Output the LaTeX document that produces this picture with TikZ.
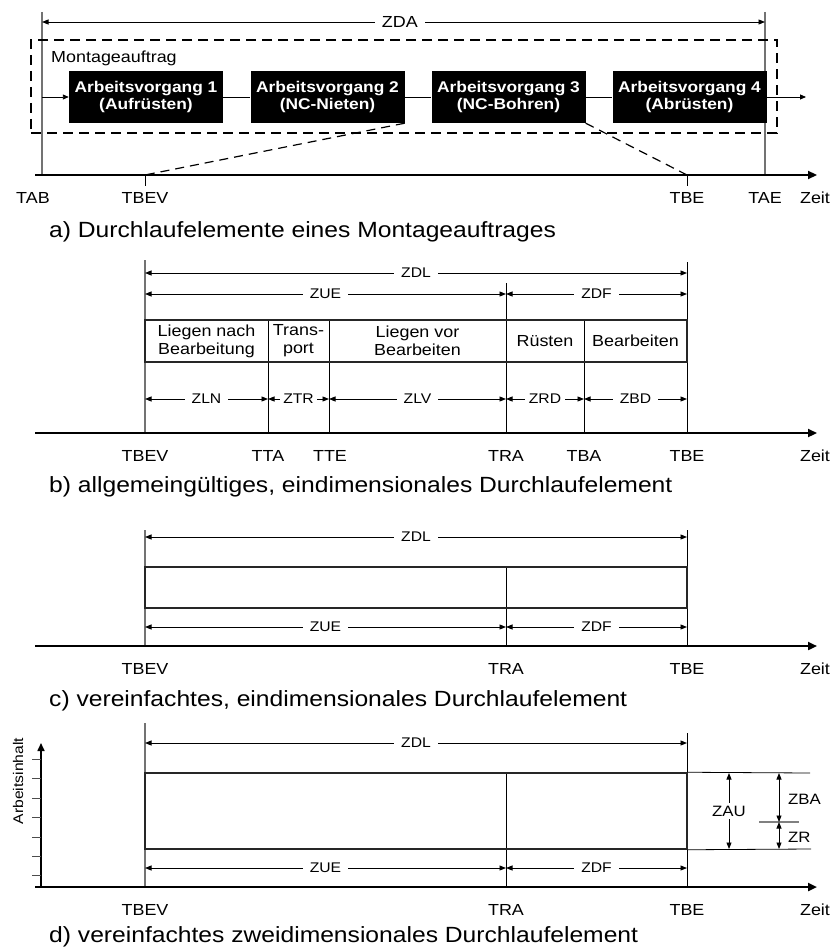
\documentclass[tikz,border=0pt]{standalone}
\usepackage{fontspec}
\setmainfont{Liberation Sans}[FakeStretch=1.12]
\usetikzlibrary{arrows.meta}

\newcommand\lblfont{\fontsize{14}{16}\selectfont}
\newcommand\sidefont{\fontsize{15}{17}\selectfont}
\newcommand\axfont{\fontsize{16}{18}\selectfont}
\newcommand\cellfont{\fontsize{16}{18}\selectfont}
\newcommand\avfont{\fontsize{15.5}{17}\selectfont\bfseries}
\newcommand\captfont{\fontsize{22}{24}\selectfont}

\tikzset{
  dimline/.style={line width=0.9pt,
    {Triangle[length=6.5pt,width=5pt]}-{Triangle[length=6.5pt,width=5pt]}},
  dimlabel/.style={fill=white, inner xsep=7pt, inner ysep=1pt, font=\lblfont},
  timeaxis/.style={line width=2.2pt, -{Triangle[length=9pt,width=8pt]}},
  guide/.style={line width=1.3pt, black!55},
  thinguide/.style={line width=0.8pt, black},
  tickline/.style={line width=0.9pt, black},
  leader/.style={line width=1.2pt, dash pattern=on 9pt off 6pt},
  flowline/.style={line width=0.9pt},
  flowarrow/.style={line width=0.9pt, -{Triangle[length=6pt,width=5pt]}},
  avbox/.style={fill=black, text=white, font=\avfont, align=center,
    minimum width=154pt, minimum height=52pt, inner sep=0pt},
  axislabel/.style={font=\axfont, inner sep=0pt},
  caption/.style={font=\captfont, anchor=west, inner sep=0pt},
  framebox/.style={draw=black!85, line width=1.5pt},
  celltext/.style={font=\cellfont, align=center, inner sep=0pt},
}

\begin{document}
\begin{tikzpicture}[x=1pt,y=-1pt]
\path[use as bounding box] (0,0) rectangle (834,952);

% ================= a) Durchlaufelemente eines Montageauftrages
\coordinate (aTABt) at (42,12);  \coordinate (aTABb) at (42,175);
\coordinate (aTAEt) at (765,12); \coordinate (aTAEb) at (765,175);
\draw[guide] (aTABt) -- (aTABb);
\draw[guide] (aTAEt) -- (aTAEb);
\coordinate (aZDAl) at (42,22); \coordinate (aZDAr) at (765,22);
\draw[dimline] (aZDAl) -- node[dimlabel, font=\axfont, pos=0.495] (lZDA) {ZDA} (aZDAr);

\node[draw, line width=1.6pt, dash pattern=on 10pt off 6pt,
      minimum width=746pt, minimum height=93pt, inner sep=0pt]
      (auftrag) at (404,86.5) {};
\node[font=\cellfont, anchor=west, inner sep=0pt] (montage) at (51,58) {Montageauftrag};

\node[avbox] (av1) at (146,97)   {Arbeitsvorgang 1\\(Aufrüsten)};
\node[avbox] (av2) at (327.5,97) {Arbeitsvorgang 2\\(NC-Nieten)};
\node[avbox] (av3) at (508.5,97) {Arbeitsvorgang 3\\(NC-Bohren)};
\node[avbox] (av4) at (689.5,97) {Arbeitsvorgang 4\\(Abrüsten)};
\coordinate (ain) at (42,97); \coordinate (aout) at (806,97);
\draw[flowarrow] (ain) -- (av1.west);
\draw[flowline] (av1.east) -- (av2.west);
\draw[flowline] (av2.east) -- (av3.west);
\draw[flowline] (av3.east) -- (av4.west);
\draw[flowarrow] (av4.east) -- (aout);

\coordinate (aAx0) at (35,175); \coordinate (aAx1) at (817,175);
\draw[timeaxis] (aAx0) -- (aAx1);
\coordinate (aTBEV) at (145,175); \coordinate (aTBEVt) at (145,186);
\coordinate (aTBE) at (687,175);  \coordinate (aTBEt) at (687,186);
\draw[tickline] (aTBEV) -- (aTBEVt);
\draw[tickline] (aTBE) -- (aTBEt);
\draw[leader] (av2.south east) -- (aTBEV);
\draw[leader] (av3.south east) -- (aTBE);

\node[axislabel] (laTAB)  at (33,198)  {TAB};
\node[axislabel] (laTBEV) at (145,198) {TBEV};
\node[axislabel] (laTBE)  at (687,198) {TBE};
\node[axislabel] (laTAE)  at (765,198) {TAE};
\node[axislabel] (laZeit) at (815,198) {Zeit};
\node[caption] (capa) at (49,232) {a) Durchlaufelemente eines Montageauftrages};

% ================= b) allgemeingültiges, eindimensionales Durchlaufelement
\coordinate (bL) at (145,433);  \coordinate (bLt) at (145,260);
\coordinate (bR) at (687,433);  \coordinate (bRt) at (687,262);
\coordinate (bRA) at (506,433); \coordinate (bRAt) at (506,283);
\coordinate (bTA) at (268,433); \coordinate (bTAt) at (268,320);
\coordinate (bTE) at (329,433); \coordinate (bTEt) at (329,320);
\coordinate (bBA) at (584,433); \coordinate (bBAt) at (584,320);
\draw[guide] (bLt) -- (bL);
\draw[thinguide] (bRt) -- (bR);
\draw[thinguide] (bRAt) -- (bRA);
\draw[thinguide] (bTAt) -- (bTA);
\draw[thinguide] (bTEt) -- (bTE);
\draw[thinguide] (bBAt) -- (bBA);

\draw[dimline] (145,273) -- node[dimlabel] (lbZDL) {ZDL} (687,273);
\draw[dimline] (145,294) -- node[dimlabel] (lbZUE) {ZUE} (506,294);
\draw[dimline] (506,294) -- node[dimlabel] (lbZDF) {ZDF} (687,294);

\node[framebox, minimum width=542pt, minimum height=42pt, inner sep=0pt]
     (btable) at (416,341) {};
\node[celltext] (cLN) at (206.5,341) {Liegen nach\\Bearbeitung};
\node[celltext] (cTR) at (298.5,341) {Trans-\\port};
\node[celltext] (cLV) at (417.5,341) {Liegen vor\\Bearbeiten};
\node[celltext] (cRD) at (545,341)   {Rüsten};
\node[celltext] (cBD) at (635.5,341) {Bearbeiten};

\draw[dimline] (145,399) -- node[dimlabel] (lbZLN) {ZLN} (268,399);
\draw[dimline] (268,399) -- node[dimlabel, inner xsep=3pt] (lbZTR) {ZTR} (329,399);
\draw[dimline] (329,399) -- node[dimlabel] (lbZLV) {ZLV} (506,399);
\draw[dimline] (506,399) -- node[dimlabel, inner xsep=4pt] (lbZRD) {ZRD} (584,399);
\draw[dimline] (584,399) -- node[dimlabel] (lbZBD) {ZBD} (687,399);

\coordinate (bAx0) at (35,433); \coordinate (bAx1) at (817,433);
\draw[timeaxis] (bAx0) -- (bAx1);
\node[axislabel] (lbTBEV) at (145,456) {TBEV};
\node[axislabel] (lbTTA)  at (268,456) {TTA};
\node[axislabel] (lbTTE)  at (330,456) {TTE};
\node[axislabel] (lbTRA)  at (506,456) {TRA};
\node[axislabel] (lbTBA)  at (584,456) {TBA};
\node[axislabel] (lbTBE)  at (687,456) {TBE};
\node[axislabel] (lbZeit) at (815,456) {Zeit};
\node[caption] (capb) at (49,487) {b) allgemeingültiges, eindimensionales Durchlaufelement};

% ================= c) vereinfachtes, eindimensionales Durchlaufelement
\coordinate (cL) at (145,646);  \coordinate (cLt) at (145,530);
\coordinate (cR) at (687,646);  \coordinate (cRt) at (687,530);
\coordinate (cRA) at (506,646); \coordinate (cRAt) at (506,567);
\draw[guide] (cLt) -- (cL);
\draw[thinguide] (cRt) -- (cR);
\draw[thinguide] (cRAt) -- (cRA);
\draw[dimline] (145,537) -- node[dimlabel] (lcZDL) {ZDL} (687,537);
\node[framebox, minimum width=542pt, minimum height=41pt, inner sep=0pt]
     (cbar) at (416,587.5) {};
\draw[dimline] (145,627) -- node[dimlabel] (lcZUE) {ZUE} (506,627);
\draw[dimline] (506,627) -- node[dimlabel] (lcZDF) {ZDF} (687,627);
\coordinate (cAx0) at (35,646); \coordinate (cAx1) at (817,646);
\draw[timeaxis] (cAx0) -- (cAx1);
\node[axislabel] (lcTBEV) at (145,669) {TBEV};
\node[axislabel] (lcTRA)  at (506,669) {TRA};
\node[axislabel] (lcTBE)  at (687,669) {TBE};
\node[axislabel] (lcZeit) at (815,669) {Zeit};
\node[caption] (capc) at (49,701) {c) vereinfachtes, eindimensionales Durchlaufelement};

% ================= d) vereinfachtes zweidimensionales Durchlaufelement
\coordinate (dL) at (145,887);  \coordinate (dLt) at (145,723);
\coordinate (dR) at (687,887);  \coordinate (dRt) at (687,733);
\coordinate (dRA) at (506,887); \coordinate (dRAt) at (506,773);
\draw[guide] (dLt) -- (dL);
\draw[thinguide] (dRt) -- (dR);
\draw[thinguide] (dRAt) -- (dRA);
\draw[dimline] (145,743) -- node[dimlabel] (ldZDL) {ZDL} (687,743);
\node[framebox, minimum width=542pt, minimum height=76pt, inner sep=0pt]
     (dbar) at (416,811) {};
\draw[dimline] (145,868) -- node[dimlabel] (ldZUE) {ZUE} (506,868);
\draw[dimline] (506,868) -- node[dimlabel] (ldZDF) {ZDF} (687,868);

% vertical work-content axis with scale ticks
\coordinate (dY0) at (41,887); \coordinate (dY1) at (41,743);
\draw[line width=1.6pt, -{Triangle[length=8pt,width=7pt]}] (dY0) -- (dY1);
\foreach \ty in {759,778,798,817,837,856,875}
  \draw[tickline, black!70] (32,\ty) -- (41,\ty);
\node[font=\lblfont, rotate=90, inner sep=0pt] (ldInhalt) at (18,781) {Arbeitsinhalt};

\coordinate (dAx0) at (35,887); \coordinate (dAx1) at (817,887);
\draw[timeaxis] (dAx0) -- (dAx1);

% extension lines and capacity dimensions
\coordinate (dTopR) at (810,773); \coordinate (dBotR) at (811,849);
\draw[thinguide] (dbar.north east) -- (dTopR);
\draw[thinguide] (dbar.south east) -- (dBotR);
\coordinate (dMidL) at (759,822); \coordinate (dMidR) at (799,822);
\draw[line width=1.2pt, black!50] (dMidL) -- (dMidR);
\draw[dimline] (729,773) -- node[dimlabel, font=\sidefont, inner xsep=1pt, inner ysep=3pt] (ldZAU) {ZAU} (729,849);
\draw[dimline] (779,773) -- (779,822);
\draw[dimline] (779,822) -- (779,849);
\node[font=\sidefont, anchor=west, inner sep=0pt] (ldZBA) at (788,799) {ZBA};
\node[font=\sidefont, anchor=west, inner sep=0pt] (ldZR)  at (788,837) {ZR};

\node[axislabel] (ldTBEV) at (145,910) {TBEV};
\node[axislabel] (ldTRA)  at (506,910) {TRA};
\node[axislabel] (ldTBE)  at (687,910) {TBE};
\node[axislabel] (ldZeit) at (815,910) {Zeit};
\node[caption] (capd) at (49,937) {d) vereinfachtes zweidimensionales Durchlaufelement};
\end{tikzpicture}
\end{document}
